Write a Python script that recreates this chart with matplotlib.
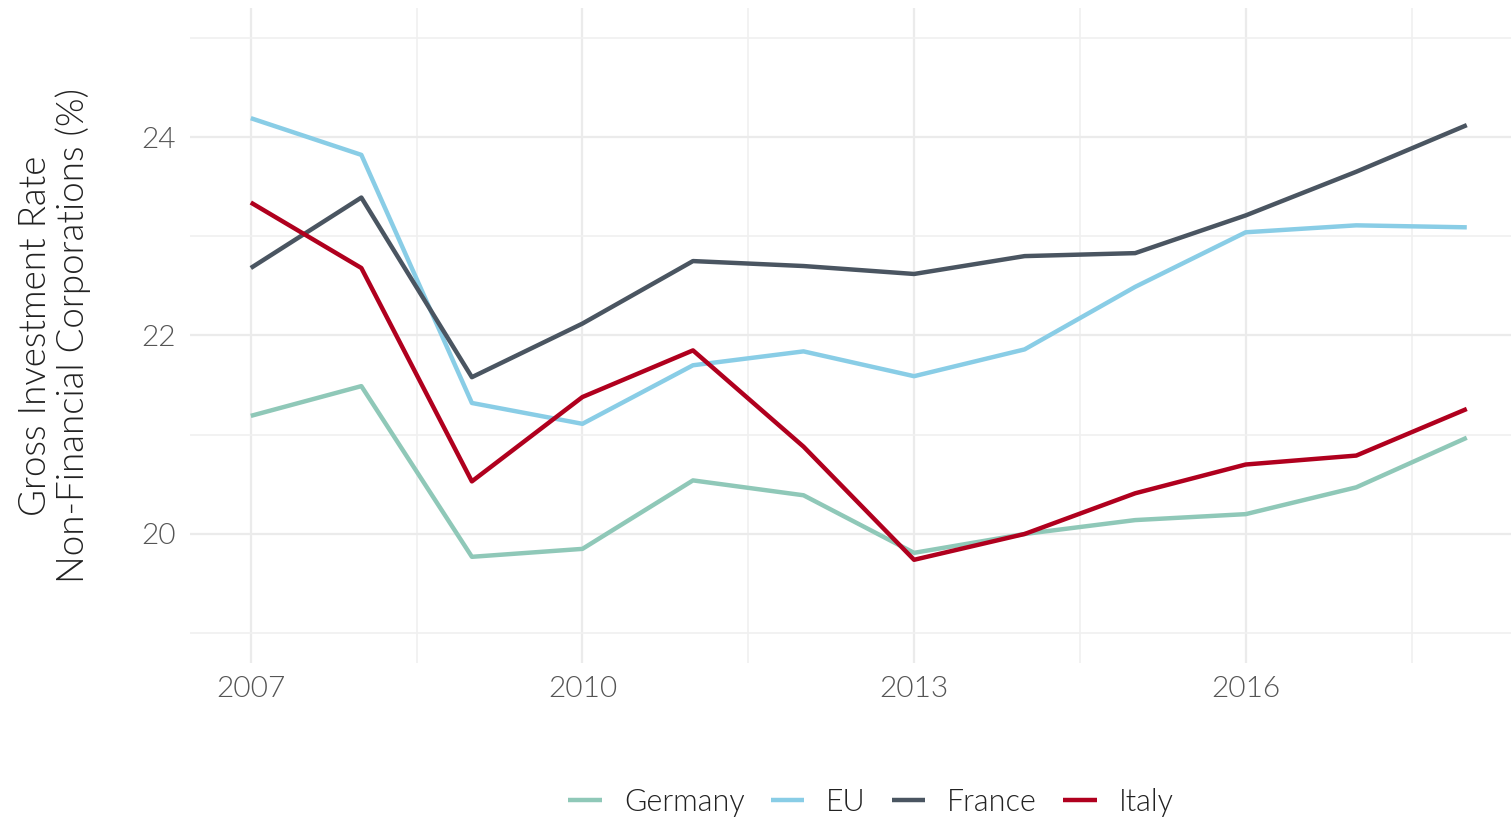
import matplotlib
matplotlib.use("Agg")
import matplotlib.pyplot as plt
from matplotlib import font_manager as fm
from matplotlib.ticker import FixedLocator

plt.rcParams['font.family'] = ['Lato', 'DejaVu Sans']

years = list(range(2007, 2019))
germany = [21.19, 21.49, 19.77, 19.85, 20.54, 20.39, 19.81, 20.00, 20.14, 20.20, 20.47, 20.97]
eu      = [24.19, 23.82, 21.32, 21.11, 21.70, 21.84, 21.59, 21.86, 22.49, 23.04, 23.11, 23.09]
france  = [22.68, 23.39, 21.58, 22.12, 22.75, 22.70, 22.62, 22.80, 22.83, 23.21, 23.65, 24.12]
italy   = [23.34, 22.68, 20.53, 21.38, 21.85, 20.88, 19.74, 20.00, 20.41, 20.70, 20.79, 21.26]

series = [("Germany", germany, "#8fc8b8"),
          ("EU", eu, "#89cde6"),
          ("France", france, "#4a5561"),
          ("Italy", italy, "#b0001e")]

def fp(size):
    return fm.FontProperties(family=['Lato', 'DejaVu Sans'], weight=300, size=size)

W, H = 1511, 821
fig = plt.figure(figsize=(W/100, H/100), dpi=100)
ax = fig.add_axes([190/W, 1-663/H, (W-190)/W, 655/H])

for name, vals, col in series:
    ax.plot(years, vals, color=col, lw=3.2, label=name, solid_capstyle='butt', zorder=3)

ax.set_xlim(2006.45, 2018.40)
ax.set_ylim(18.7, 25.3)
ax.xaxis.set_major_locator(FixedLocator([2007, 2010, 2013, 2016]))
ax.xaxis.set_minor_locator(FixedLocator([2008.5, 2011.5, 2014.5, 2017.5]))
ax.yaxis.set_major_locator(FixedLocator([20, 22, 24]))
ax.yaxis.set_minor_locator(FixedLocator([19, 21, 23, 25]))
ax.set_xticklabels(["2007", "2010", "2013", "2016"], fontproperties=fp(21.5), color='#555555')
ax.set_yticklabels(["20", "22", "24"], fontproperties=fp(21.5), color='#555555')

ax.grid(which='major', color='#ebebeb', lw=1.6)
ax.grid(which='minor', color='#f0f0f0', lw=1.2)
ax.set_axisbelow(True)
for s in ax.spines.values():
    s.set_visible(False)
ax.tick_params(which='both', length=0)
ax.tick_params(axis='x', pad=9)
ax.tick_params(axis='y', pad=10)

ax.set_ylabel("Gross Investment Rate\nNon-Financial Corporations (%)",
              fontproperties=fp(26.5), color='#222222', labelpad=36,
              linespacing=1.1)

leg = fig.legend(loc='center', bbox_to_anchor=(871/W, 1-802/H), ncol=4,
                 frameon=False, prop=fp(22), handlelength=1.1, handletextpad=0.72,
                 columnspacing=0.85)
for t in leg.get_texts():
    t.set_color('#222222')
for l in leg.get_lines():
    l.set_linewidth(3.2)

fig.savefig("out.png", dpi=100)
